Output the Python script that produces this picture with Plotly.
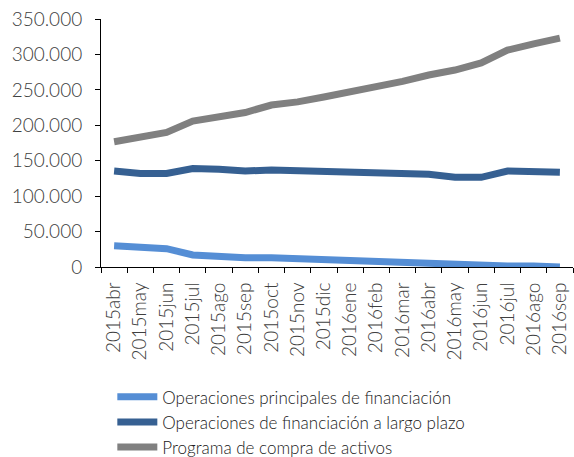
import plotly.graph_objects as go

# Monthly categories
meses = ["2015abr", "2015may", "2015jun", "2015jul", "2015ago", "2015sep",
         "2015oct", "2015nov", "2015dic", "2016ene", "2016feb", "2016mar",
         "2016abr", "2016may", "2016jun", "2016jul", "2016ago", "2016sep"]

# Values in millions of euro
principales = [30000, 27800, 25900, 17000, 14600, 13000, 13000, 11500, 9900,
               9900, 7500, 5200, 5200, 2800, 2800, 1400, 1400, 0]
largo_plazo = [135500, 132000, 132000, 139000, 138000, 135500, 137000, 136000,
               133000, 132000, 130800, 131000, 131000, 126600, 126600, 135500,
               135500, 133600]
compra_activos = [176800, 184000, 190000, 206000, 212000, 218000, 228600,
                  233000, 240000, 247000, 254000, 262000, 271000, 278000,
                  288000, 306000, 315000, 323000]

series = [
    ("Operaciones principales de financiación", principales, "#558ed5"),
    ("Operaciones de financiación a largo plazo", largo_plazo, "#366092"),
    ("Programa de compra de activos", compra_activos, "#808080"),
]

fig = go.Figure()
for name, vals, color in series:
    fig.add_trace(go.Scatter(
        x=meses, y=vals, name=name, mode="lines",
        line=dict(color=color, width=7),
    ))

fig.update_layout(
    width=574, height=457,
    margin=dict(l=101, r=1, t=19, b=190),
    plot_bgcolor="white", paper_bgcolor="white",
    font=dict(family="Lato", size=19, color="#404040", weight=300),
    separators=",.",
    showlegend=True,
    legend=dict(x=0.024, y=0.17, yref="container",
                xanchor="left", yanchor="top",
                font=dict(size=17, color="#202020", weight=300),
                bgcolor="rgba(0,0,0,0)", tracegroupgap=0,
                itemwidth=40),
    xaxis=dict(type="category", range=[-0.5, 17.5], tickangle=-90,
               showline=True, linecolor="#000000", linewidth=1,
               ticks="outside", tickson="boundaries", ticklen=5,
               tickcolor="#000000", ticklabelstandoff=7,
               showgrid=False, zeroline=False, automargin=False),
    yaxis=dict(range=[0, 350000], dtick=50000, tickformat=",d",
               showline=True, linecolor="#000000", linewidth=1,
               ticks="outside", ticklen=5, tickcolor="#000000",
               ticklabelstandoff=9,
               showgrid=False, zeroline=False, automargin=False),
)

fig.write_html("out.html", config={"displayModeBar": False},
               post_script="document.body.style.margin='0';")
